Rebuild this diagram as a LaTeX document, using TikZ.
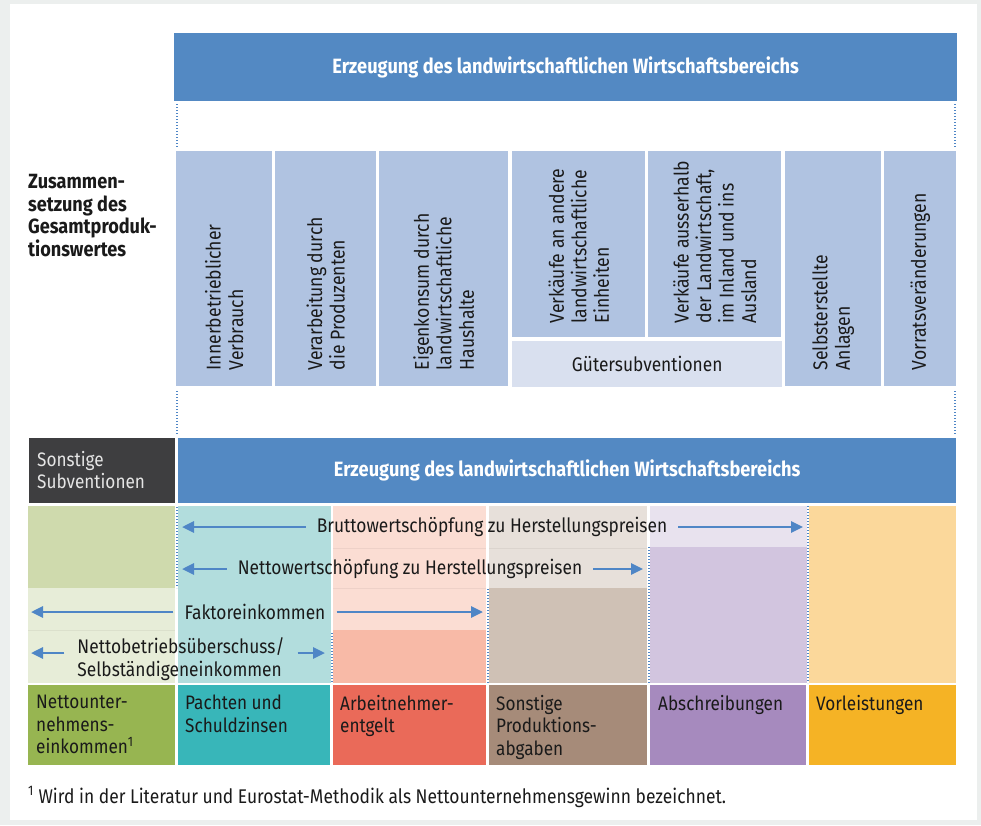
\documentclass[tikz,border=0pt]{standalone}
\usepackage{fontspec}
\setmainfont{Fira Sans}[FakeStretch=0.88]
\usetikzlibrary{arrows.meta}

\definecolor{bggray}{HTML}{ECEFEE}
\definecolor{hblue}{HTML}{5389C3}
\definecolor{ablue}{HTML}{4F86C6}
\definecolor{darkbox}{HTML}{3E3E40}
\definecolor{cblue}{HTML}{B0C3E1}
\definecolor{gsub}{HTML}{D9E0EF}
\definecolor{greenD}{HTML}{CFDAAD}
\definecolor{greenL}{HTML}{E7EDD8}
\definecolor{tealL}{HTML}{B2DDDD}
\definecolor{pinkL}{HTML}{FBDDD3}
\definecolor{salmon}{HTML}{F8BAA7}
\definecolor{beigeL}{HTML}{E7E0DA}
\definecolor{beige}{HTML}{CFC1B5}
\definecolor{lavL}{HTML}{E8E2EE}
\definecolor{lav}{HTML}{D2C5DF}
\definecolor{orangeL}{HTML}{FBD89B}
\definecolor{cgreen}{HTML}{97B551}
\definecolor{cteal}{HTML}{38B6B9}
\definecolor{cred}{HTML}{EA6A59}
\definecolor{cbrown}{HTML}{A68B79}
\definecolor{cpurple}{HTML}{A68ABE}
\definecolor{corange}{HTML}{F5B325}
\definecolor{ink}{HTML}{1A1A1A}

\tikzset{
  box/.style={rectangle, inner sep=0pt, anchor=north west, fill=#1},
  hdr/.style={box=hblue, text=white, font=\bfseries\fontsize{20.7}{24}\selectfont},
  lbl/.style={anchor=north west, align=left, inner sep=0pt, text=ink, font=\fontsize{19.5}{22.5}\selectfont},
  vlbl/.style={rotate=90, anchor=west, align=left, inner sep=0pt, text=ink, font=\fontsize{20}{22.5}\selectfont},
  mlbl/.style={inner xsep=11pt, inner ysep=0pt, text=ink, font=\fontsize{19.7}{22.5}\selectfont},
  arr/.style={draw=ablue, line width=2.7pt, -{Triangle[length=12pt,width=11pt]}},
  dots/.style={draw=ablue, line width=1.5pt, dash pattern=on 1.4pt off 1.6pt},
  faint/.style={draw=black, opacity=0.05, line width=0.8pt}
}

\begin{document}
\begin{tikzpicture}[x=1pt, y=-1pt]
  \useasboundingbox (0,0) rectangle (981,825);
  \fill[bggray] (0,0) rectangle (981,825);
  \fill[white] (10,4) rectangle (977,820);

  \node[hdr, minimum width=783, minimum height=68] (top) at (174,33)
    {Erzeugung des landwirtschaftlichen Wirtschaftsbereichs};

  \node[anchor=north west, align=left, inner sep=0pt, text=ink,
        font=\bfseries\fontsize{20.6}{22.7}\selectfont] (zus) at (28,174)
    {Zusammen-\\setzung des\\Gesamtproduk-\\tionswertes};

  \node[box=cblue, minimum width=96, minimum height=235] (v1) at (176,151) {};
  \node[box=cblue, minimum width=101, minimum height=235] (v2) at (275,151) {};
  \node[box=cblue, minimum width=129, minimum height=235] (v3) at (379,151) {};
  \node[box=cblue, minimum width=133, minimum height=186] (v4) at (512,151) {};
  \node[box=cblue, minimum width=133, minimum height=186] (v5) at (648,151) {};
  \node[box=cblue, minimum width=96, minimum height=235] (v6) at (785,151) {};
  \node[box=cblue, minimum width=72, minimum height=235] (v7) at (884,151) {};
  \node[box=gsub, minimum width=270, minimum height=46, text=ink,
        font=\fontsize{19.7}{22.5}\selectfont] (gs) at (512,341) {Gütersubventionen};

  \node[vlbl] (t1) at ([yshift=16pt]v1.south) {Innerbetrieblicher\\Verbrauch};
  \node[vlbl] (t2) at ([yshift=16pt]v2.south) {Verarbeitung durch\\die Produzenten};
  \node[vlbl] (t3) at ([yshift=16pt]v3.south) {Eigenkonsum durch\\landwirtschaftliche\\Haushalte};
  \node[vlbl] (t4) at ([yshift=14pt]v4.south) {Verkäufe an andere\\landwirtschaftliche\\Einheiten};
  \node[vlbl] (t5) at ([yshift=14pt]v5.south) {Verkäufe ausserhalb\\der Landwirtschaft,\\im Inland und ins\\Ausland};
  \node[vlbl] (t6) at ([yshift=16pt]v6.south) {Selbsterstellte\\Anlagen};
  \node[vlbl] (t7) at ([yshift=16pt]v7.south) {Vorratsveränderungen};

  \draw[dots] (177,104) -- (177,147);
  \draw[dots] (955,104) -- (955,147);
  \draw[dots] (177,391) -- (177,435);
  \draw[dots] (955,391) -- (955,435);

  \node[box=darkbox, minimum width=146, minimum height=65] (sub) at (29,438) {};
  \node[lbl, text=white!90!black] (subt) at (37,451) {Sonstige\\Subventionen};
  \node[hdr, minimum width=778, minimum height=65] (erz) at (178,438)
    {Erzeugung des landwirtschaftlichen Wirtschaftsbereichs};

  \node[box=greenD, minimum width=147, minimum height=82] (gA1) at (28,506) {};
  \node[box=greenL, minimum width=147, minimum height=95] (gA2) at (28,588) {};
  \node[box=tealL, minimum width=153, minimum height=177] (tB) at (178,506) {};
  \node[box=pinkL, minimum width=153, minimum height=124] (pC1) at (333,506) {};
  \node[box=salmon, minimum width=153, minimum height=53] (pC2) at (333,630) {};
  \node[box=beigeL, minimum width=158, minimum height=82] (bD1) at (489,506) {};
  \node[box=beige, minimum width=158, minimum height=95] (bD2) at (489,588) {};
  \node[box=lavL, minimum width=157, minimum height=41] (lE1) at (650,506) {};
  \node[box=lav, minimum width=157, minimum height=136] (lE2) at (650,547) {};
  \node[box=orangeL, minimum width=147, minimum height=177] (oF) at (809,506) {};

  \draw[faint] (28,630) -- (175,630);
  \draw[faint] (333,548) -- (486,548);
  \draw[faint] (333,588) -- (486,588);
  \draw[faint] (489,548) -- (647,548);

  \draw[dots] (177,507) -- (177,588);
  \draw[dots] (332,633) -- (332,683);
  \draw[dots] (488,589) -- (488,683);
  \draw[dots] (649,547) -- (649,683);
  \draw[dots] (808,506) -- (808,683);

  \node[mlbl] (brutto) at (492,527) {Bruttowertschöpfung zu Herstellungspreisen};
  \node[mlbl] (netto) at (410,569) {Nettowertschöpfung zu Herstellungspreisen};
  \node[mlbl] (faktor) at (255,612) {Faktoreinkommen};
  \node[mlbl, align=left, inner xsep=13pt] (nbue) at (181,659) {Nettobetriebsüberschuss/\\Selbständigeneinkommen};

  \coordinate (bruL) at (182,527);
  \coordinate (bruR) at (803,527);
  \coordinate (netL) at (182,569);
  \coordinate (netR) at (643,569);
  \coordinate (fakL) at (31,612);
  \coordinate (fakR) at (483,612);
  \coordinate (nbuL) at (31,653);
  \coordinate (nbuR) at (325,653);

  \draw[arr] (brutto.west) -- (bruL);
  \draw[arr] (brutto.east) -- (bruR);
  \draw[arr] (netto.west) -- (netL);
  \draw[arr] (netto.east) -- (netR);
  \draw[arr] (faktor.west) -- (fakL);
  \draw[arr] (faktor.east) -- (fakR);
  \draw[arr] ([yshift=6pt]nbue.west) -- (nbuL);
  \draw[arr] (nbue.east |- nbuR) -- (nbuR);

  \node[box=cgreen, minimum width=147, minimum height=80] (n1) at (28,685) {};
  \node[box=cteal, minimum width=152, minimum height=80] (n2) at (178,685) {};
  \node[box=cred, minimum width=153, minimum height=80] (n3) at (333,685) {};
  \node[box=cbrown, minimum width=158, minimum height=80] (n4) at (489,685) {};
  \node[box=cpurple, minimum width=156, minimum height=80] (n5) at (650,685) {};
  \node[box=corange, minimum width=147, minimum height=80] (n6) at (809,685) {};

  \node[lbl] (l1) at ([shift={(8pt,-10pt)}]n1.north west) {Nettounter-\\nehmens-\\einkommen\textsuperscript{1}};
  \node[lbl] (l2) at ([shift={(7pt,-10pt)}]n2.north west) {Pachten und\\Schuldzinsen};
  \node[lbl] (l3) at ([shift={(7pt,-10pt)}]n3.north west) {Arbeitnehmer-\\entgelt};
  \node[lbl] (l4) at ([shift={(7pt,-10pt)}]n4.north west) {Sonstige\\Produktions-\\abgaben};
  \node[lbl] (l5) at ([shift={(8pt,-10pt)}]n5.north west) {Abschreibungen};
  \node[lbl] (l6) at ([shift={(7pt,-10pt)}]n6.north west) {Vorleistungen};

  \node[anchor=base west, inner sep=0pt, text=ink, font=\fontsize{19.8}{22}\selectfont] (fn) at (28,803)
    {\textsuperscript{1} Wird in der Literatur und Eurostat-Methodik als Nettounternehmensgewinn bezeichnet.};
\end{tikzpicture}
\end{document}
